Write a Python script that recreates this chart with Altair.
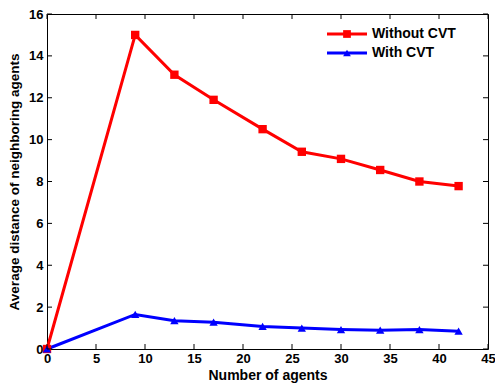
import altair as alt
import pandas as pd

agents = [0, 9, 13, 17, 22, 26, 30, 34, 38, 42]
without_cvt = [0, 15.0, 13.1, 11.9, 10.5, 9.42, 9.08, 8.55, 8.0, 7.78]
with_cvt = [0, 1.65, 1.35, 1.28, 1.08, 1.0, 0.93, 0.9, 0.93, 0.85]
series_names = ["Without CVT", "With CVT"]
x_ticks = [0, 5, 10, 15, 20, 25, 30, 35, 40, 45]
y_ticks = [0, 2, 4, 6, 8, 10, 12, 14, 16]

W, H = 441, 335
FONT = "Liberation Sans"

rows = []
for name, vals in zip(series_names, [without_cvt, with_cvt]):
    for a, v in zip(agents, vals):
        rows.append({"agents": a, "dist": v, "series": name})
df = pd.DataFrame(rows)

xscale = alt.Scale(domain=[0, 45], nice=False, zero=False)
yscale = alt.Scale(domain=[0, 16], nice=False)
cscale = alt.Scale(domain=series_names, range=["#ff0000", "#0000ff"])
sscale = alt.Scale(domain=series_names, range=["square", "triangle-up"])

xaxis = alt.Axis(values=x_ticks, ticks=False, domain=False, grid=False, labelFont=FONT,
                 labelFontWeight="bold", labelFontSize=13, labelColor="black", labelPadding=3,
                 title="Number of agents", titleFont=FONT, titleFontWeight="bold",
                 titleFontSize=14, titleColor="black", titlePadding=3, labelFlush=False)
yaxis = alt.Axis(values=y_ticks, ticks=False, domain=False, grid=False, labelFont=FONT,
                 labelFontWeight="bold", labelFontSize=13, labelColor="black", labelPadding=4,
                 title="Average distance of neighboring agents", titleFont=FONT,
                 titleFontWeight="bold", titleFontSize=13.5, titleColor="black", titlePadding=7)

base = alt.Chart(df)
lines = base.mark_line(strokeWidth=3).encode(
    x=alt.X("agents:Q", scale=xscale, axis=xaxis),
    y=alt.Y("dist:Q", scale=yscale, axis=yaxis),
    color=alt.Color("series:N", scale=cscale, legend=None),
    detail="series:N",
)
points = base.mark_point(filled=True, opacity=1, size=70, strokeWidth=1.5).encode(
    x=alt.X("agents:Q", scale=xscale, axis=xaxis),
    y=alt.Y("dist:Q", scale=yscale, axis=yaxis),
    color=alt.Color("series:N", scale=cscale, legend=None),
    shape=alt.Shape("series:N", scale=sscale, legend=None),
)

xt = pd.DataFrame({"t": x_ticks})
yt = pd.DataFrame({"t": y_ticks})
tick_style = dict(color="black", strokeWidth=1)
xb = alt.Chart(xt).mark_rule(**tick_style).encode(
    x=alt.X("t:Q", scale=xscale, axis=xaxis), y=alt.value(H), y2=alt.value(H - 5))
xtop = alt.Chart(xt).mark_rule(**tick_style).encode(
    x=alt.X("t:Q", scale=xscale, axis=xaxis), y=alt.value(0), y2=alt.value(5))
yl = alt.Chart(yt).mark_rule(**tick_style).encode(
    y=alt.Y("t:Q", scale=yscale, axis=yaxis), x=alt.value(0), x2=alt.value(5))
yr = alt.Chart(yt).mark_rule(**tick_style).encode(
    y=alt.Y("t:Q", scale=yscale, axis=yaxis), x=alt.value(W), x2=alt.value(W - 5))

# manual legend
leg = pd.DataFrame({"series": series_names, "ypos": [20, 39]})
leg_lines = alt.Chart(leg).mark_rule(strokeWidth=3).encode(
    x=alt.value(280), x2=alt.value(320), y=alt.Y("ypos:Q", scale=None),
    color=alt.Color("series:N", scale=cscale, legend=None))
leg_pts = alt.Chart(leg).mark_point(filled=True, opacity=1, size=60).encode(
    x=alt.value(300), y=alt.Y("ypos:Q", scale=None),
    color=alt.Color("series:N", scale=cscale, legend=None),
    shape=alt.Shape("series:N", scale=sscale, legend=None))
leg_txt = alt.Chart(leg).mark_text(align="left", baseline="middle", font=FONT,
                                   fontWeight="bold", fontSize=14, color="black").encode(
    x=alt.value(325), y=alt.Y("ypos:Q", scale=None), text="series:N")

chart = alt.layer(lines, points, xb, xtop, yl, yr, leg_lines, leg_pts, leg_txt).properties(
    width=W, height=H,
    background="white",
    autosize=alt.AutoSizeParams(type="none"),
    padding={"left": 39, "top": 6, "right": 7, "bottom": 34},
).configure_view(stroke="black", strokeWidth=1)

chart.save("out.html", embed_options={"renderer": "svg", "actions": False})
